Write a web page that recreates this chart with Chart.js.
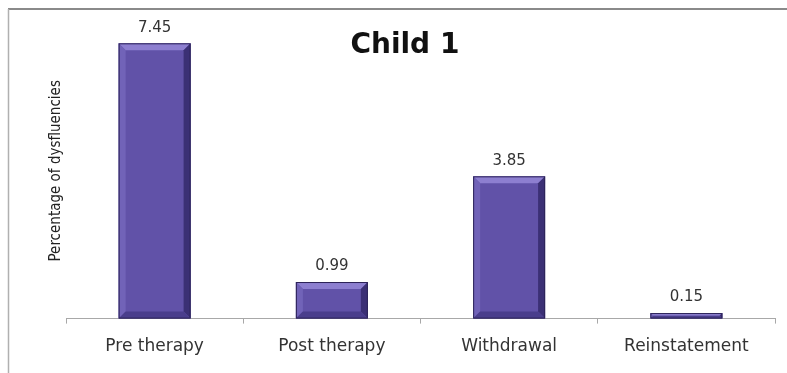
<!DOCTYPE html>
<html>
<head>
<meta charset="utf-8">
<script src="https://cdn.jsdelivr.net/npm/chart.js@4/dist/chart.umd.min.js"></script>
<style>
  html, body { margin: 0; padding: 0; background: #ffffff; }
  #wrap { width: 787px; height: 373px; position: relative; }
</style>
</head>
<body>
<div id="wrap"><canvas id="c"></canvas></div>
<script>
// Dysfluency percentages per phase
const phases = ['Pre therapy', 'Post therapy', 'Withdrawal', 'Reinstatement'];
const dysfluency = [7.45, 0.99, 3.85, 0.15];
const chartTitle = 'Child 1';
const yAxisTitle = 'Percentage of dysfluencies';

const BAR = '#6152a8';
const BAR_LIGHT = '#8d7fd0';
const BAR_MID_LIGHT = '#7163b8';
const BAR_DARK = '#3b3075';
const BAR_DARKER = '#2c2358';
const FONT = '"DejaVu Sans", Verdana, sans-serif';

// Frame lines along the top and left edges
const framePlugin = {
  id: 'frame',
  beforeDraw(chart) {
    const ctx = chart.ctx;
    ctx.save();
    ctx.fillStyle = '#ffffff';
    ctx.fillRect(0, 0, chart.width, chart.height);
    ctx.strokeStyle = '#8a8a8a';
    ctx.lineWidth = 2;
    ctx.beginPath();
    ctx.moveTo(8, 9);
    ctx.lineTo(chart.width, 9);
    ctx.stroke();
    ctx.strokeStyle = '#b0b0b0';
    ctx.lineWidth = 1.5;
    ctx.beginPath();
    ctx.moveTo(8.5, 9);
    ctx.lineTo(8.5, chart.height);
    ctx.stroke();
    ctx.restore();
  }
};

// Bevelled bar faces plus value labels
const bevelPlugin = {
  id: 'bevel',
  afterDatasetsDraw(chart) {
    const ctx = chart.ctx;
    const meta = chart.getDatasetMeta(0);
    ctx.save();
    meta.data.forEach((bar, i) => {
      const p = bar.getProps(['x', 'y', 'base', 'width'], true);
      const l = p.x - p.width / 2, r = p.x + p.width / 2;
      const t = Math.min(p.y, p.base), b = Math.max(p.y, p.base);
      const h = b - t;
      const s = Math.min(7, h / 2);
      // top face
      ctx.fillStyle = BAR_LIGHT;
      ctx.beginPath();
      ctx.moveTo(l, t); ctx.lineTo(r, t); ctx.lineTo(r - s, t + s); ctx.lineTo(l + s, t + s); ctx.closePath();
      ctx.fill();
      // left face
      ctx.fillStyle = BAR_MID_LIGHT;
      ctx.beginPath();
      ctx.moveTo(l, t); ctx.lineTo(l + s, t + s); ctx.lineTo(l + s, b - s); ctx.lineTo(l, b); ctx.closePath();
      ctx.fill();
      // right face
      ctx.fillStyle = BAR_DARK;
      ctx.beginPath();
      ctx.moveTo(r, t); ctx.lineTo(r, b); ctx.lineTo(r - s, b - s); ctx.lineTo(r - s, t + s); ctx.closePath();
      ctx.fill();
      // bottom face
      ctx.fillStyle = '#4a3e8c';
      ctx.beginPath();
      ctx.moveTo(l, b); ctx.lineTo(r, b); ctx.lineTo(r - s, b - s); ctx.lineTo(l + s, b - s); ctx.closePath();
      ctx.fill();
      // outline
      ctx.strokeStyle = BAR_DARKER;
      ctx.lineWidth = 1;
      ctx.strokeRect(l + 0.5, t + 0.5, p.width - 1, h - 1);
      // value label
      ctx.fillStyle = '#333333';
      ctx.font = '15px ' + FONT;
      ctx.textAlign = 'center';
      ctx.textBaseline = 'bottom';
      ctx.fillText(dysfluency[i].toFixed(2), p.x, t - 8);
    });
    ctx.restore();
  },
  afterDraw(chart) {
    const ctx = chart.ctx;
    const a = chart.chartArea;
    ctx.save();
    ctx.fillStyle = '#111111';
    ctx.font = 'bold 28px ' + FONT;
    ctx.textAlign = 'center';
    ctx.textBaseline = 'alphabetic';
    ctx.fillText(chartTitle, a.left + a.width * 0.478, a.top + 30);
    ctx.restore();
  }
};

new Chart(document.getElementById('c'), {
  type: 'bar',
  data: {
    labels: phases,
    datasets: [{
      data: dysfluency,
      backgroundColor: BAR,
      borderWidth: 0,
      categoryPercentage: 1,
      barPercentage: 0.406
    }]
  },
  options: {
    responsive: true,
    maintainAspectRatio: false,
    animation: false,
    devicePixelRatio: 1,
    layout: { padding: { left: 40, right: 12, top: 23, bottom: 3 } },
    plugins: {
      legend: { display: false },
      tooltip: { enabled: false },
      title: { display: false }
    },
    scales: {
      x: {
        grid: {
          display: true,
          drawOnChartArea: false,
          drawTicks: true,
          tickLength: 5,
          color: '#a8a8a8',
          offset: true
        },
        border: { display: true, color: '#a8a8a8', width: 1 },
        ticks: {
          color: '#333333',
          font: { family: FONT, size: 17 },
          padding: 13,
          maxRotation: 0
        }
      },
      y: {
        min: 0,
        max: 8,
        grid: { display: false, drawTicks: false },
        border: { display: false },
        ticks: { display: false },
        title: {
          display: true,
          text: yAxisTitle,
          color: '#222222',
          font: { family: '"DejaVu Sans Condensed", "DejaVu Sans", sans-serif', size: 15 },
          padding: { top: 7, bottom: 1 }
        }
      }
    }
  },
  plugins: [framePlugin, bevelPlugin]
});
</script>
</body>
</html>
